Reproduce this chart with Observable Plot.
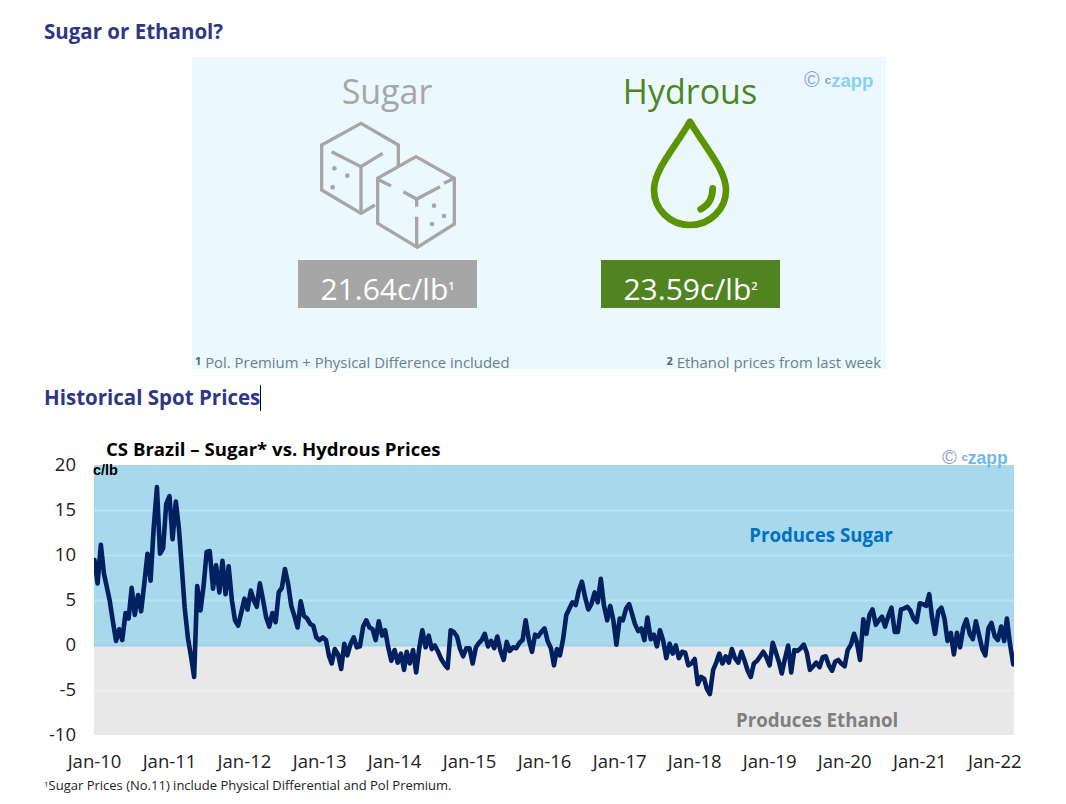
<!DOCTYPE html>
<html>
<head>
<meta charset="utf-8">
<script src="https://cdn.jsdelivr.net/npm/d3@7"></script>
<script src="https://cdn.jsdelivr.net/npm/@observablehq/plot@0.6"></script>
<style>
html,body{margin:0;padding:0;background:#fff;width:1066px;height:804px;overflow:hidden;font-family:"Open Sans",sans-serif}
.abs{position:absolute;white-space:nowrap}
h2{margin:0;font-size:20.5px;font-weight:700;color:#2e3785;line-height:26px}
#panel{position:absolute;left:192px;top:57px;width:694px;height:312px;background:#ebf9ff}
.big{font-size:34px;line-height:44px;transform:translateX(-50%)}
.box{position:absolute;top:260px;width:179px;height:48px;color:#fff;font-size:30px;line-height:58px;text-align:center}
.box sup{font-size:11px;font-weight:600;vertical-align:baseline;position:relative;top:-10px;line-height:0}
.fn{font-size:14.9px;color:#6d7f8c;line-height:18px}
.fn b{font-size:11px;position:relative;top:-3px;color:#55626c}
.logo{font-family:"Liberation Sans",sans-serif;font-weight:700;line-height:20px}
.logo .c{color:#8d9fd6;font-weight:400;font-size:1.15em}
.logo .s{color:#8d9fd6;font-size:.62em;position:relative;top:-.28em}
.logo .z{color:#8ccff4}
#chart{position:absolute;left:0;top:435px}
#chart svg{overflow:visible}
</style>
</head>
<body>
<h2 class="abs" style="left:44px;top:18px">Sugar or Ethanol?</h2>

<div id="panel">
  <div class="abs big" style="left:195px;top:12px;color:#a6a6a6">Sugar</div>
  <div class="abs big" style="left:498px;top:12px;color:#4e851f">Hydrous</div>
  <div class="abs logo" style="left:612px;top:13px;font-size:18.5px"><span class="c">©</span> <span class="s">c</span><span class="z">zapp</span></div>
  <div class="fn abs" style="left:3px;top:296px"><b>1</b> Pol. Premium + Physical Difference included</div>
  <div class="fn abs" style="right:5px;top:296px"><b>2</b> Ethanol prices from last week</div>
</div>

<svg class="abs" style="left:190px;top:50px" width="350" height="325" viewBox="0 0 1050 975" fill="none" stroke="#a6a6a6" stroke-width="10">
  <path d="M555 465L513 490L395 420V285L513 220L625 285V350"/>
  <path d="M425 305L513 350L578 310M513 350V490"/>
  <path d="M678 320L793 385V522L682 592L563 520V385Z"/>
  <path d="M567 390L603 408M640 425L680 447L750 410M762 400L793 385M680 447V470M680 500V592"/>
  <g fill="#a6a6a6" stroke="none">
    <circle cx="433" cy="355" r="7"/><circle cx="472" cy="377" r="7"/><circle cx="428" cy="412" r="7"/>
    <circle cx="732" cy="467" r="7"/><circle cx="762" cy="498" r="7"/><circle cx="726" cy="522" r="7"/>
  </g>
</svg>
<svg class="abs" style="left:540px;top:50px" width="350" height="325" viewBox="0 0 1050 975" fill="none" stroke="#5b9400" stroke-width="20" stroke-linecap="round" stroke-linejoin="round">
  <path d="M450 215C400 300 342 360 342 420A108 105 0 0 0 558 420C558 360 500 300 450 215Z"/>
  <path d="M482 478Q518 460 518 415"/>
</svg>
<div class="box" style="left:298px;top:260px;background:#a6a6a6">21.64c/lb<sup>1</sup></div>
<div class="box" style="left:601px;top:260px;background:#4f8421">23.59c/lb<sup>2</sup></div>

<h2 class="abs" style="left:44px;top:384px">Historical Spot Prices</h2>
<div class="abs" style="left:260px;top:385px;width:1px;height:26px;background:#000"></div>

<div id="chart"></div>
<div class="abs" style="left:106px;top:436px;font-size:18.6px;font-weight:700;color:#000;line-height:25px">CS Brazil – Sugar* vs. Hydrous Prices</div>
<div class="abs" style="left:93px;top:462px;font-family:'Liberation Sans',sans-serif;font-weight:700;font-size:14.5px;color:#000;line-height:16px">c/lb</div>
<div class="abs logo" style="left:942px;top:447px;font-size:17.5px"><span class="c">©</span> <span class="s">c</span><span class="z" style="color:#6fb9ea">zapp</span></div>
<div class="abs" style="left:44px;top:776px;font-size:13px;color:#222;line-height:18px"><span style="font-size:8px;position:relative;top:-3px">1</span>Sugar Prices (No.11) include Physical Differential and Pol Premium.</div>

<script>
// Sugar minus hydrous spread (c/lb) at half-month steps
const spread2010 = [9.5,6.9,11.2,8.0,6.6,5.0,2.6,0.5,1.8,0.6,3.6,3.0,6.4,3.4,5.6,3.8,7.0,10.2,7.2,13.0,17.6,10.2,10.8,15.7];
const spread2011 = [16.6,11.8,16.0,13.0,9.0,4.2,0.8,-1.2,-3.5,6.6,3.9,6.6,10.4,10.5,6.3,8.9,5.9,9.4,5.7,8.8,5.0,2.8,2.2,3.6];
const spread2012 = [5.2,4.0,6.1,5.0,4.3,6.9,5.0,3.1,2.1,3.6,2.6,5.9,6.4,8.5,6.8,4.4,3.2,2.0,4.9,3.3,3.0,2.4,2.2,0.9];
const spread2013 = [0.6,0.9,0.6,-1.2,-2.0,-0.4,-1.0,-2.6,0.2,-1.1,0.2,0.9,-0.2,-0.1,2.1,2.8,2.0,1.8,0.6,2.7,1.1,1.7,-0.2,-1.7];
const spread2014 = [-0.5,-1.9,-0.9,-2.7,-0.7,-2.0,-0.5,-3.0,-0.3,1.7,-0.2,1.1,-0.4,0.0,-0.7,-1.5,-2.1,-2.5,1.7,1.5,1.0,-0.4,-1.2,-0.3];
const spread2015 = [-0.3,-2.0,-0.2,0.3,0.6,1.3,-0.1,0.5,-0.3,1.0,-0.6,-1.6,0.4,-0.6,-0.2,-0.3,0.3,0.6,2.8,0.7,-0.7,1.2,1.0,1.5];
const spread2016 = [1.9,0.5,-0.3,-2.2,-0.4,-1.1,0.8,3.4,4.1,4.8,4.5,6.1,7.1,5.4,4.0,4.6,5.9,4.8,7.4,4.5,2.8,4.4,2.8,0.1];
const spread2017 = [3.0,2.8,4.1,4.6,3.6,2.4,1.6,1.9,0.6,3.1,0.7,1.2,-0.1,1.7,0.5,-1.4,0.2,-0.9,0.0,-1.4,-0.7,-0.8,-2.2,-2.0];
const spread2018 = [-1.5,-4.3,-3.5,-3.7,-4.8,-5.4,-2.7,-1.9,-0.9,-2.0,-1.2,-1.9,-0.4,-1.4,-1.9,-0.7,-1.7,-2.8,-3.5,-2.0,-1.7,-1.2,-0.7,-1.3];
const spread2019 = [-2.2,0.3,-0.8,-1.9,-3.1,-1.5,0.0,-3.0,-0.5,-0.6,-0.3,0.1,-0.8,-2.7,-2.3,-1.9,-2.4,-1.3,-1.2,-2.2,-2.8,-1.8,-1.6,-2.0];
const spread2020 = [-2.3,-0.5,0.1,1.3,0.3,-1.6,2.9,1.3,3.4,4.0,2.3,2.8,3.2,2.1,3.3,4.2,1.5,1.5,4.0,4.1,4.3,3.9,3.0,2.6];
const spread2021 = [4.7,4.6,4.4,5.7,3.2,1.3,3.8,4.2,3.0,0.5,1.4,-1.0,1.4,-0.2,2.0,2.9,1.3,0.7,2.7,1.2,-0.4,-1.1,1.9,2.5];
const spread2022 = [1.0,0.6,2.1,0.5,3.0,0.2,-2.1];

const tickYears = [2010,2011,2012,2013,2014,2015,2016,2017,2018,2019,2020,2021,2022];
const yTicks = [-10,-5,0,5,10,15,20];
const bands = [
  {from:0, to:20, fill:"#a8d8ec"},
  {from:-10, to:0, fill:"#e8e8e8"}
];
const gridLines = [
  {y:15, stroke:"#b7e3f6"},{y:10, stroke:"#b7e3f6"},{y:5, stroke:"#b7e3f6"},
  {y:0, stroke:"#9fd0e6"},{y:-5, stroke:"#eeeeee"}
];

const xStart = new Date(Date.UTC(2010,0,1));
const xEnd = new Date(Date.UTC(2022,3,7));
const series = [spread2010,spread2011,spread2012,spread2013,spread2014,spread2015,spread2016,
  spread2017,spread2018,spread2019,spread2020,spread2021,spread2022].flat()
  .map((v,i)=>({date:new Date(Date.UTC(2010,Math.floor(i/2),i%2?16:1)),v}));

const labels = [
  {date:new Date(Date.UTC(2019,8,8)), y:12.2, t:"Produces Sugar", c:"#0070c0"},
  {date:new Date(Date.UTC(2019,7,20)), y:-8.35, t:"Produces Ethanol", c:"#7f7f7f"}
];

const plot = Plot.plot({
  width:1066, height:345,
  marginTop:30, marginBottom:45, marginLeft:94, marginRight:52,
  style:{fontFamily:'"Open Sans",sans-serif', background:"transparent"},
  x:{type:"utc", domain:[xStart,xEnd], label:null},
  y:{domain:[-10,20], label:null},
  marks:[
    Plot.rect(bands,{x1:()=>xStart,x2:()=>xEnd,y1:"from",y2:"to",fill:d=>d.fill,inset:0}),
    Plot.ruleY(gridLines,{y:"y",stroke:d=>d.stroke,strokeWidth:2}),
    Plot.lineY(series,{x:"date",y:"v",stroke:"#002060",strokeWidth:4.6,strokeLinejoin:"round",curve:"linear",clip:true}),
    Plot.text(labels,{x:"date",y:"y",text:"t",fill:d=>d.c,fontSize:18.7,fontWeight:700}),
    Plot.axisX({ticks:tickYears.map(y=>new Date(Date.UTC(y,0,1))),tickFormat:d3.utcFormat("%b-%y"),tickSize:0,tickPadding:19,fontSize:18.5,fill:"#222",label:null}),
    Plot.axisY({ticks:yTicks,tickFormat:d=>String(d),tickSize:0,tickPadding:18.5,dy:0,fontSize:18.5,fill:"#222",label:null})
  ]
});
document.getElementById("chart").appendChild(plot);
</script>
</body>
</html>
